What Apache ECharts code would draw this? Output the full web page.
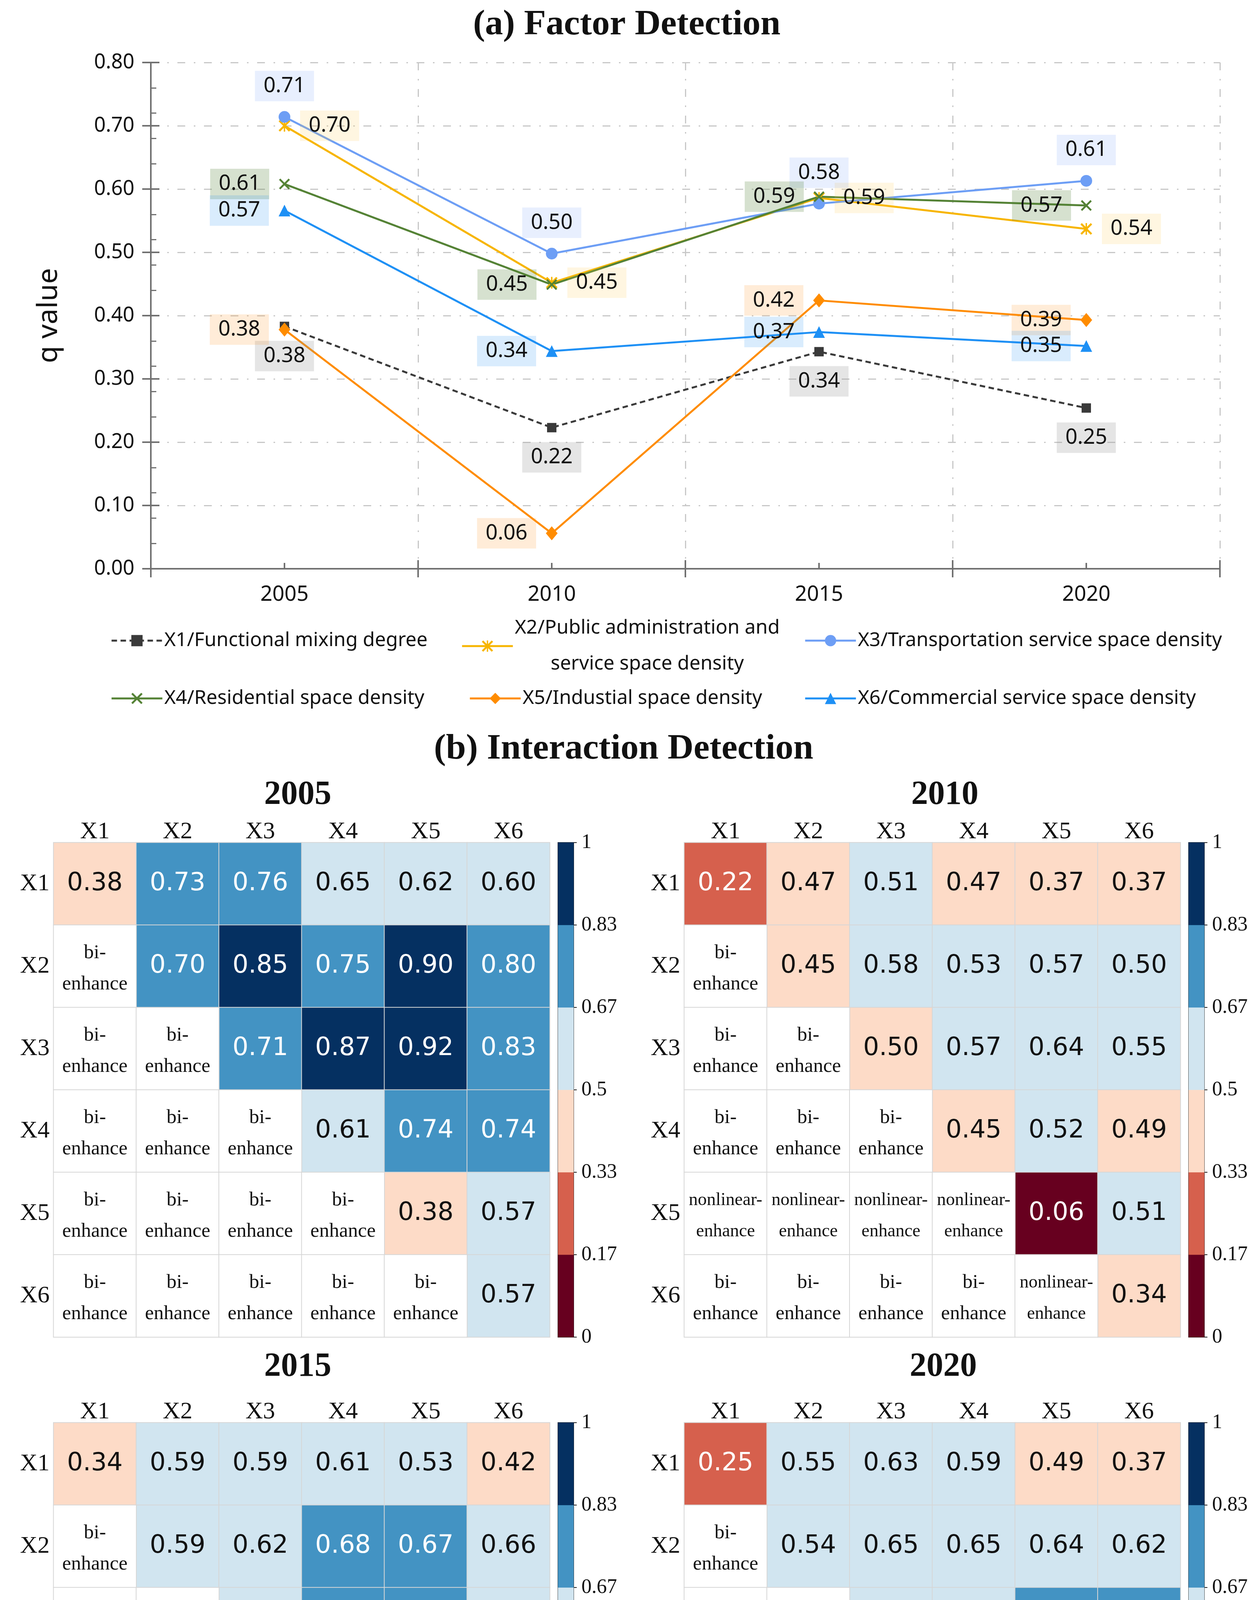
<!DOCTYPE html>
<html><head><meta charset="utf-8">
<script src="https://cdn.jsdelivr.net/npm/echarts@6/dist/echarts.min.js"></script>
<style>html,body{margin:0;padding:0;background:#fff}#c{width:3222px;height:4961px}</style>
</head><body><div id="c"></div>
<script>
// ---------- data: (a) factor detection ----------
const years = ['2005', '2010', '2015', '2020'];
const seriesNames = [
  'X1/Functional mixing degree',
  'X2/Public administration and service space density',
  'X3/Transportation service space density',
  'X4/Residential space density',
  'X5/Industial space density',
  'X6/Commercial service space density'
];
const qX1 = [0.383, 0.223, 0.343, 0.254];
const qX2 = [0.700, 0.452, 0.586, 0.537];
const qX3 = [0.714, 0.498, 0.577, 0.613];
const qX4 = [0.608, 0.449, 0.588, 0.574];
const qX5 = [0.378, 0.056, 0.424, 0.393];
const qX6 = [0.566, 0.344, 0.374, 0.352];

// ---------- data: (b) interaction detection ----------
const factors = ['X1', 'X2', 'X3', 'X4', 'X5', 'X6'];
const heatYears = ['2005', '2010', '2015', '2020'];
// upper triangle (incl. diagonal), row by row
const q2005 = [[0.38,0.73,0.76,0.65,0.62,0.60],[0.70,0.85,0.75,0.90,0.80],[0.71,0.87,0.92,0.83],[0.61,0.74,0.74],[0.38,0.57],[0.57]];
const q2010 = [[0.22,0.47,0.51,0.47,0.37,0.37],[0.45,0.58,0.53,0.57,0.503],[0.498,0.57,0.64,0.55],[0.45,0.52,0.49],[0.06,0.51],[0.34]];
const q2015 = [[0.34,0.59,0.59,0.61,0.53,0.42],[0.59,0.62,0.68,0.67,0.66],[0.58,0.68,0.68,0.61],[0.59,0.65,0.64],[0.42,0.57],[0.37]];
const q2020 = [[0.25,0.55,0.63,0.59,0.49,0.37],[0.54,0.65,0.65,0.64,0.62],[0.61,0.66,0.67,0.68],[0.57,0.65,0.60],[0.39,0.56],[0.35]];
// lower triangle interaction types, row by row
const type2005 = [[],['bi'],['bi','bi'],['bi','bi','bi'],['bi','bi','bi','bi'],['bi','bi','bi','bi','bi']];
const type2010 = [[],['bi'],['bi','bi'],['bi','bi','bi'],['nonlinear','nonlinear','nonlinear','nonlinear'],['bi','bi','bi','bi','nonlinear']];
const type2015 = [[],['bi'],['bi','bi'],['bi','bi','bi'],['bi','bi','bi','bi'],['bi','bi','bi','bi','bi']];
const type2020 = [[],['bi'],['bi','bi'],['bi','bi','bi'],['bi','bi','bi','bi'],['bi','bi','bi','bi','bi']];
const colorBreaks = [0, 1/6, 2/6, 3/6, 4/6, 5/6, 1];
const colorTickLabels = ['0', '0.17', '0.33', '0.5', '0.67', '0.83', '1'];

// ---------- styles ----------
const lineColors = ['#3a3a3a', '#f7b500', '#6d9ef5', '#548235', '#ff8c00', '#1e90f5'];
const labelBgs = ['rgba(150,150,150,0.25)', 'rgba(255,196,70,0.16)', 'rgba(100,150,245,0.15)', 'rgba(83,130,53,0.24)', 'rgba(255,150,40,0.18)', 'rgba(30,144,245,0.17)'];
const labelPos = ['bottom', 'right', 'top', 'left', 'left', 'left'];
const xPath = 'path://M0,1.2 L1.2,0 L5,3.8 L8.8,0 L10,1.2 L6.2,5 L10,8.8 L8.8,10 L5,6.2 L1.2,10 L0,8.8 L3.8,5 Z';
const starPath = xPath + ' M4.4,0 L5.6,0 L5.6,10 L4.4,10 Z';
const symbols = ['rect', starPath, 'circle', xPath, 'diamond', 'triangle'];
const symbolSizes = [24, 30, 30, 28, [30, 36], 30];
const pieceColors = ['#67001f', '#d6604d', '#fddbc7', '#d1e5f0', '#4393c3', '#053061'];

const axisGray = '#707070';
const gridLine = {color: '#c8c8c8', width: 3, type: [20, 22, 4, 22]};
const sans = 'Noto Sans';
const serif = 'Liberation Serif';

const grids = [{left: 386, top: 160, width: 2736, height: 1296}];
const xAxes = [
  {type: 'category', gridIndex: 0, data: years, position: 'bottom', boundaryGap: true,
   axisLine: {lineStyle: {color: axisGray, width: 4}},
   axisTick: {show: true, inside: false, length: 22, interval: 0, lineStyle: {color: axisGray, width: 4}},
   axisLabel: {margin: 40, fontSize: 54, fontFamily: sans, color: '#111', interval: 0},
   splitLine: {show: true, interval: 0, lineStyle: gridLine}},
  {type: 'category', gridIndex: 0, data: years, position: 'bottom', boundaryGap: true,
   axisLine: {show: false}, axisLabel: {show: false}, splitLine: {show: false},
   axisTick: {show: true, inside: true, length: 22, interval: 0, lineStyle: {color: axisGray, width: 4}}},
  {type: 'category', gridIndex: 0, data: years, position: 'bottom', boundaryGap: true,
   axisLine: {show: false}, axisLabel: {show: false}, splitLine: {show: false},
   axisTick: {show: true, inside: true, alignWithLabel: true, length: 15, interval: 0, lineStyle: {color: axisGray, width: 4}}}
];
const yAxes = [
  {type: 'value', gridIndex: 0, min: 0, max: 0.8, interval: 0.1, position: 'left',
   name: 'q value', nameLocation: 'middle', nameGap: 225,
   nameTextStyle: {fontSize: 72, fontFamily: sans, color: '#111'},
   axisLine: {show: true, lineStyle: {color: axisGray, width: 4}},
   axisTick: {show: true, length: 22, lineStyle: {color: axisGray, width: 4}},
   axisLabel: {margin: 42, fontSize: 52, fontFamily: sans, color: '#111', formatter: v => v.toFixed(2)},
   splitLine: {show: true, lineStyle: gridLine}},
  {type: 'value', gridIndex: 0, min: 0, max: 0.8, interval: 0.1, position: 'left',
   axisLine: {show: false}, axisLabel: {show: false}, splitLine: {show: false},
   axisTick: {show: true, inside: true, length: 22, lineStyle: {color: axisGray, width: 4}}},
  {type: 'value', gridIndex: 0, min: 0, max: 0.8, interval: 0.04, position: 'left',
   axisLine: {show: false}, axisLabel: {show: false}, splitLine: {show: false},
   axisTick: {show: true, inside: true, length: 14, lineStyle: {color: axisGray, width: 3}}}
];

const qSeries = [qX1, qX2, qX3, qX4, qX5, qX6];
const series = qSeries.map((vals, i) => ({
  type: 'line', name: seriesNames[i], xAxisIndex: 0, yAxisIndex: 0, data: vals,
  symbol: symbols[i], symbolSize: symbolSizes[i],
  itemStyle: {color: lineColors[i]},
  lineStyle: {color: lineColors[i], width: 5, type: i === 0 ? [14, 9] : 'solid'},
  label: {show: true, position: labelPos[i], distance: 25, formatter: p => p.value.toFixed(2),
          fontSize: 54, fontFamily: sans, color: '#111', backgroundColor: labelBgs[i], padding: [12, 22]},
  emphasis: {disabled: true}, z: 3
}));

// ---------- heatmaps ----------
const hmValues = [q2005, q2010, q2015, q2020];
const hmTypes = [type2005, type2010, type2015, type2020];
const hmLayout = [
  {left: 137, top: 2157, tx: 762, ty: 2036},
  {left: 1751, top: 2157, tx: 2418, ty: 2036},
  {left: 137, top: 3642, tx: 762, ty: 3500},
  {left: 1751, top: 3642, tx: 2414, ty: 3500}
];
const vmSeries = [];
const graphics = [
  {type: 'text', x: 1604, y: 64, style: {text: '(a) Factor Detection', font: 'bold 92px "Liberation Serif"', fill: '#111', align: 'center', verticalAlign: 'middle'}},
  {type: 'text', x: 1596, y: 1918, style: {text: '(b) Interaction Detection', font: 'bold 92px "Liberation Serif"', fill: '#111', align: 'center', verticalAlign: 'middle'}}
];
hmValues.forEach((hm, k) => {
  const L = hmLayout[k];
  graphics.push({type: 'text', x: L.tx, y: L.ty, style: {text: heatYears[k], font: 'bold 86px "Liberation Serif"', fill: '#111', align: 'center', verticalAlign: 'middle'}});
  const gi = grids.length;
  grids.push({left: L.left, top: L.top, width: 1270, height: 1266});
  const xi = xAxes.length;
  xAxes.push({type: 'category', gridIndex: gi, data: factors, position: 'top',
    axisLine: {show: false}, axisTick: {show: false}, splitLine: {show: false}, splitArea: {show: false},
    axisLabel: {margin: -4, fontSize: 62, fontFamily: serif, color: '#111'}});
  const yi = yAxes.length;
  yAxes.push({type: 'category', gridIndex: gi, data: factors, inverse: true,
    axisLine: {show: false}, axisTick: {show: false}, splitLine: {show: false}, splitArea: {show: false},
    axisLabel: {margin: 10, fontSize: 62, fontFamily: serif, color: '#111'}});
  const valData = [], typeData = [];
  for (let r = 0; r < 6; r++) {
    for (let c = 0; c < 6; c++) {
      if (c >= r) {
        const v = hm[r][c - r];
        valData.push({value: [c, r, v], label: {color: (v < 1/3 || v > 2/3) ? '#ffffff' : '#111111'}});
      } else {
        const t = hmTypes[k][r][c];
        typeData.push({value: [c, r, 0], name: t, label: {fontSize: t === 'bi' ? 51 : 46}});
      }
    }
  }
  series.push({type: 'heatmap', xAxisIndex: xi, yAxisIndex: yi, data: valData,
    itemStyle: {borderColor: '#d6d6d6', borderWidth: 2},
    label: {show: true, formatter: p => p.value[2].toFixed(2), fontSize: 64, fontFamily: 'DejaVu Sans'},
    emphasis: {disabled: true}});
  vmSeries.push(series.length - 1);
  series.push({type: 'heatmap', xAxisIndex: xi, yAxisIndex: yi, data: typeData,
    itemStyle: {color: '#ffffff', borderColor: '#d6d6d6', borderWidth: 2},
    label: {show: true, formatter: p => p.name + '-\nenhance', fontSize: 48, lineHeight: 80, fontFamily: serif, color: '#111', offset: [0, 6]},
    emphasis: {disabled: true}});
  // colour bar
  const cgi = grids.length;
  grids.push({left: L.left + 1291, top: L.top, width: 40, height: 1266, show: true, borderColor: '#222', borderWidth: 2, backgroundColor: 'transparent'});
  const cxi = xAxes.length;
  xAxes.push({type: 'category', gridIndex: cgi, data: [''], show: false});
  const cyi = yAxes.length;
  yAxes.push({type: 'category', gridIndex: cgi, data: ['b0', 'b1', 'b2', 'b3', 'b4', 'b5'], show: false});
  yAxes.push({type: 'value', gridIndex: cgi, min: 0, max: 1, interval: 1/6, position: 'right',
    axisLine: {show: true, lineStyle: {color: '#222', width: 2}},
    axisTick: {show: true, length: 8, lineStyle: {color: '#222', width: 2}},
    axisLabel: {margin: 20, fontSize: 52, fontFamily: serif, color: '#111', formatter: v => colorTickLabels[Math.round(v * 6)]},
    splitLine: {show: false}});
  series.push({type: 'heatmap', xAxisIndex: cxi, yAxisIndex: cyi,
    data: colorBreaks.slice(0, 6).map((b, i) => [0, i, (b + colorBreaks[i + 1]) / 2]),
    itemStyle: {borderWidth: 0}, label: {show: false}, emphasis: {disabled: true}});
  vmSeries.push(series.length - 1);
});

// ---------- legends ----------
const legRow1 = 1640, legRow2 = 1788;
const legText = {fontSize: 50, fontFamily: sans, color: '#111', lineHeight: 60};
const legends = [
  {name: seriesNames[0], left: 283, top: legRow1 - 30},
  {name: seriesNames[1], left: 1180, top: legRow1 - 78, two: true},
  {name: seriesNames[2], left: 2058, top: legRow1 - 30},
  {name: seriesNames[3], left: 283, top: legRow2 - 30},
  {name: seriesNames[4], left: 1200, top: legRow2 - 30},
  {name: seriesNames[5], left: 2058, top: legRow2 - 30}
].map(l => {
  const o = {data: [l.name], left: l.left, top: l.top, padding: 0, itemWidth: 130, itemHeight: 36,
    orient: 'horizontal', selectedMode: false, lineStyle: {width: 5},
    textStyle: Object.assign({}, legText)};
  if (l.two) {
    o.formatter = () => '{a|X2/Public administration and}\n{a|service space density}';
    o.textStyle = Object.assign({}, legText, {rich: {a: {fontSize: 50, fontFamily: sans, color: '#111', lineHeight: 92, align: 'center'}}});
  }
  return o;
});

const chart = echarts.init(document.getElementById('c'), null, {renderer: 'canvas'});
chart.setOption({
  animation: false,
  backgroundColor: '#ffffff',
  grid: grids,
  xAxis: xAxes,
  yAxis: yAxes,
  legend: legends,
  visualMap: {
    type: 'piecewise', show: false, dimension: 2, seriesIndex: vmSeries,
    pieces: pieceColors.map((col, i) => (i === 5 ? {gte: colorBreaks[i], lte: colorBreaks[i + 1], color: col} : {gte: colorBreaks[i], lt: colorBreaks[i + 1], color: col}))
  },
  graphic: graphics,
  series: series
});
</script></body></html>
